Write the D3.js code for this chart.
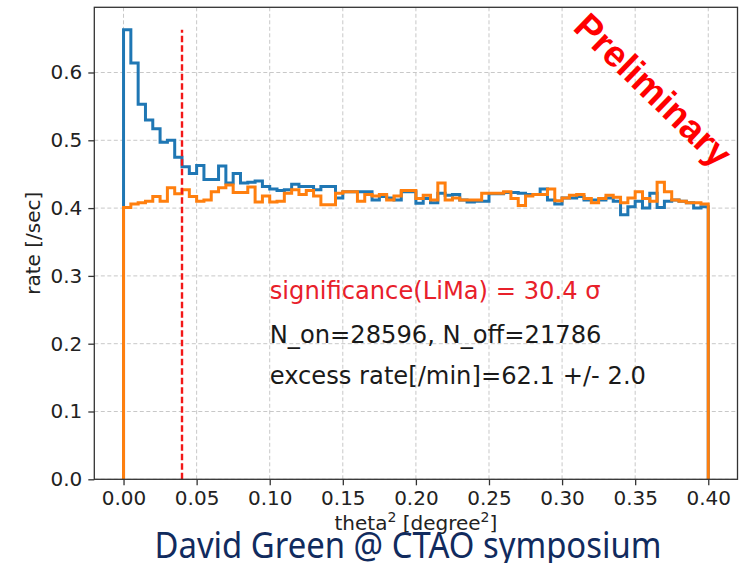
<!DOCTYPE html>
<html>
<head>
<meta charset="utf-8">
<script src="https://cdn.jsdelivr.net/npm/d3@7"></script>
<style>
  html, body { margin: 0; padding: 0; background: #fff; }
  svg { display: block; font-family: "DejaVu Sans", sans-serif; }
</style>
</head>
<body>
<svg id="chart" width="739" height="563"></svg>
<script>
// Data
// ----
// theta^2 histogram, 80 bins of 0.005 deg^2 from 0 to 0.4
const binWidth = 0.005;
const thetaMax = 0.4;
const cutTheta2 = 0.04;

// ON region rate [/sec] (blue)
const onRate = [
  0.663, 0.614, 0.553, 0.530, 0.517, 0.497, 0.500, 0.475, 0.461, 0.451,
  0.463, 0.442, 0.442, 0.462, 0.437, 0.451, 0.437, 0.438, 0.440, 0.432,
  0.428, 0.426, 0.427, 0.435, 0.432, 0.432, 0.427, 0.432, 0.432, 0.415,
  0.424, 0.424, 0.424, 0.424, 0.412, 0.417, 0.415, 0.412, 0.424, 0.424,
  0.407, 0.414, 0.408, 0.422, 0.419, 0.420, 0.412, 0.409, 0.410, 0.410,
  0.421, 0.421, 0.423, 0.423, 0.422, 0.420, 0.420, 0.428, 0.412, 0.406,
  0.415, 0.415, 0.417, 0.412, 0.412, 0.412, 0.415, 0.410, 0.390, 0.402,
  0.410, 0.400, 0.422, 0.401, 0.410, 0.412, 0.410, 0.408, 0.400, 0.402
];

// OFF region rate [/sec] (orange)
const offRate = [
  0.401, 0.406, 0.408, 0.410, 0.417, 0.410, 0.430, 0.421, 0.427, 0.417,
  0.410, 0.412, 0.424, 0.430, 0.434, 0.423, 0.423, 0.431, 0.409, 0.418,
  0.409, 0.410, 0.422, 0.427, 0.420, 0.426, 0.418, 0.405, 0.405, 0.422,
  0.424, 0.424, 0.410, 0.420, 0.418, 0.420, 0.412, 0.418, 0.426, 0.426,
  0.414, 0.419, 0.412, 0.437, 0.412, 0.415, 0.412, 0.412, 0.412, 0.422,
  0.422, 0.422, 0.424, 0.414, 0.404, 0.418, 0.420, 0.420, 0.428, 0.411,
  0.415, 0.419, 0.420, 0.414, 0.408, 0.414, 0.419, 0.416, 0.408, 0.415,
  0.424, 0.414, 0.410, 0.438, 0.424, 0.412, 0.410, 0.408, 0.408, 0.406
];

const xTicks = [0.00, 0.05, 0.10, 0.15, 0.20, 0.25, 0.30, 0.35, 0.40];
const yTicks = [0.0, 0.1, 0.2, 0.3, 0.4, 0.5, 0.6];

const significanceText = "significance(LiMa) = 30.4 \u03C3";
const countsText = "N_on=28596, N_off=21786";
const excessText = "excess rate[/min]=62.1 +/- 2.0";

// Layout
// ------
const svg = d3.select("#chart");
const W = 739, H = 563;
const plot = { left: 94.3, right: 737.5, top: 7.3, bottom: 479.3 };

svg.append("rect").attr("width", W).attr("height", H).attr("fill", "#fff");

const x = d3.scaleLinear().domain([-0.02, 0.42]).range([plot.left, plot.right]);
const yMax = d3.max(onRate) * 1.05;
const y = d3.scaleLinear().domain([0, yMax]).range([plot.bottom, plot.top]);

// Grid
const grid = svg.append("g").attr("stroke", "#c8c8c8").attr("stroke-width", 1)
  .attr("stroke-dasharray", "4,2.5");
grid.selectAll(".gx").data(xTicks).join("line")
  .attr("x1", d => x(d)).attr("x2", d => x(d))
  .attr("y1", plot.top).attr("y2", plot.bottom);
grid.selectAll(".gy").data(yTicks).join("line")
  .attr("x1", plot.left).attr("x2", plot.right)
  .attr("y1", d => y(d)).attr("y2", d => y(d));

// Step histograms
function stepPoints(values) {
  const pts = [[0, 0]];
  values.forEach((v, i) => pts.push([i * binWidth, v]));
  pts.push([thetaMax, values[values.length - 1]]);
  pts.push([thetaMax, 0]);
  return pts;
}
const step = d3.line()
  .x(d => x(d[0])).y(d => y(d[1]))
  .curve(d3.curveStepAfter);

svg.append("path").datum(stepPoints(onRate))
  .attr("d", step).attr("fill", "none")
  .attr("stroke", "#1f77b4").attr("stroke-width", 3)
  .attr("stroke-linejoin", "miter");
svg.append("path").datum(stepPoints(offRate))
  .attr("d", step).attr("fill", "none")
  .attr("stroke", "#ff7f0e").attr("stroke-width", 3)
  .attr("stroke-linejoin", "miter");

// theta^2 cut
svg.append("line")
  .attr("x1", x(cutTheta2)).attr("x2", x(cutTheta2))
  .attr("y1", y(0)).attr("y2", y(d3.max(onRate)))
  .attr("stroke", "#f21818").attr("stroke-width", 2.4)
  .attr("stroke-dasharray", "6.5,3");

// Axes
const xAxis = d3.axisBottom(x).tickValues(xTicks).tickFormat(d3.format(".2f"))
  .tickSize(6).tickPadding(6);
const yAxis = d3.axisLeft(y).tickValues(yTicks).tickFormat(d3.format(".1f"))
  .tickSize(6).tickPadding(6);

const gx = svg.append("g").attr("transform", `translate(0,${plot.bottom})`).call(xAxis);
const gy = svg.append("g").attr("transform", `translate(${plot.left},0)`).call(yAxis);
[gx, gy].forEach(g => {
  g.select(".domain").remove();
  g.selectAll(".tick line").attr("stroke", "#333").attr("stroke-width", 1.3);
  g.selectAll(".tick text").attr("fill", "#222")
    .style("font-family", "DejaVu Sans").style("font-size", "20px");
});

// Frame
svg.append("rect")
  .attr("x", plot.left).attr("y", plot.top)
  .attr("width", plot.right - plot.left).attr("height", plot.bottom - plot.top)
  .attr("fill", "none").attr("stroke", "#333").attr("stroke-width", 1.3);

// Axis labels
svg.append("text")
  .attr("transform", `translate(40,${(plot.top + plot.bottom) / 2}) rotate(-90)`)
  .attr("text-anchor", "middle").attr("fill", "#222")
  .style("font-size", "20px")
  .text("rate [/sec]");

const xl = svg.append("text")
  .attr("x", x(0.2)).attr("y", 530)
  .attr("text-anchor", "middle").attr("fill", "#222")
  .style("font-size", "20px");
xl.append("tspan").text("theta");
xl.append("tspan").attr("dy", -8).style("font-size", "14px").text("2");
xl.append("tspan").attr("dy", 8).text(" [degree");
xl.append("tspan").attr("dy", -8).style("font-size", "14px").text("2");
xl.append("tspan").attr("dy", 8).text("]");

// Annotations
const notes = [
  { text: significanceText, v: 0.266, color: "#e8202a" },
  { text: countsText, v: 0.2016, color: "#1a1a1a" },
  { text: excessText, v: 0.140, color: "#1a1a1a" }
];
svg.selectAll(".note").data(notes).join("text")
  .attr("x", x(0.10)).attr("y", d => y(d.v))
  .attr("fill", d => d.color)
  .style("font-size", "24.2px")
  .text(d => d.text);

// Preliminary stamp
svg.append("text")
  .attr("transform", "translate(653,90) rotate(44)")
  .attr("text-anchor", "middle").attr("dominant-baseline", "central")
  .attr("fill", "#ff0000")
  .style("font-family", "Liberation Sans, Arial, sans-serif")
  .style("font-weight", "bold").style("font-size", "37px")
  .text("Preliminary");

// Slide footer
svg.append("text")
  .attr("x", 408).attr("y", 558)
  .attr("text-anchor", "middle").attr("fill", "#112b5e")
  .attr("textLength", 507).attr("lengthAdjust", "spacingAndGlyphs")
  .style("font-family", "Noto Sans, sans-serif").style("font-size", "37px")
  .text("David Green @ CTAO symposium");
</script>
</body>
</html>
